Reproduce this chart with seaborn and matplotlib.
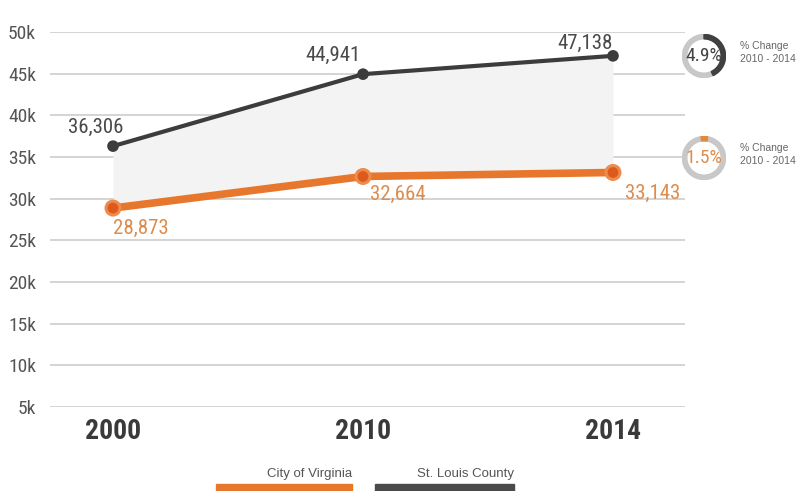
import matplotlib
matplotlib.use("Agg")
import matplotlib.pyplot as plt
from matplotlib.patches import Wedge, Rectangle
import seaborn as sns
import pandas as pd

years = ["2000", "2010", "2014"]
county = [36306, 44941, 47138]
virginia = [28873, 32664, 33143]
y_ticks = [5000, 10000, 15000, 20000, 25000, 30000, 35000, 40000, 45000, 50000]
y_tick_labels = ["5k", "10k", "15k", "20k", "25k", "30k", "35k", "40k", "45k", "50k"]
pct_county = "4.9%"
pct_virginia = "1.5%"
series_names = ["City of Virginia", "St. Louis County"]

ORANGE = "#E8772E"
ORANGE_HALO = "#EE8A4A"
ORANGE_DOT = "#DD5A1E"
ORANGE_TXT = "#DE8C4C"
DARK = "#3C3C3C"
GRID = "#C9C9C9"
TICK = "#555555"

sns.set_theme(style="white")
COND = ["Roboto Condensed", "DejaVu Sans"]
plt.rcParams["font.family"] = COND
plt.rcParams["font.stretch"] = "condensed"

fig = plt.figure(figsize=(7.96, 4.91), dpi=100)
fig.patch.set_facecolor("white")
ax = fig.add_axes([50 / 796, 1 - 407 / 491, 635 / 796, 375 / 491])
ax.set_facecolor("white")

x = list(range(len(years)))
df = pd.DataFrame({"x": x * 2,
                   "value": county + virginia,
                   "series": ["county"] * 3 + ["virginia"] * 3})

# shaded band between the two series
ax.fill_between(x, virginia, county, color="#F3F3F3", zorder=1, linewidth=0)

sns.lineplot(data=df[df.series == "county"], x="x", y="value", ax=ax,
             color=DARK, linewidth=3.0, zorder=3, legend=False)
sns.lineplot(data=df[df.series == "virginia"], x="x", y="value", ax=ax,
             color=ORANGE, linewidth=5.5, zorder=3, legend=False)
sns.scatterplot(x=x, y=county, ax=ax, color=DARK, s=70, zorder=4,
                edgecolor="none", legend=False)
sns.scatterplot(x=x, y=virginia, ax=ax, color=ORANGE_HALO, s=150, zorder=4,
                edgecolor="none", legend=False)
sns.scatterplot(x=x, y=virginia, ax=ax, color=ORANGE_DOT, s=60, zorder=5,
                edgecolor="none", legend=False)

ax.set_xlim(-0.252, 2.288)
ax.set_ylim(5000, 50000)
ax.set_yticks(y_ticks)
for yt in y_ticks:
    ax.axhline(yt, color=GRID, linewidth=1.1, zorder=0)
ax.grid(False)
ax.set_yticklabels(y_tick_labels, family=COND, stretch="condensed", fontsize=14, color=TICK)
ax.set_xticks(x)
ax.set_xticklabels(years, family=COND, stretch="condensed", fontsize=20,
                   fontweight="bold", color="#3A3A3A")
ax.tick_params(axis="y", length=0, pad=10)
ax.tick_params(axis="x", length=0, pad=8)
ax.set_xlabel("")
ax.set_ylabel("")
for s in ax.spines.values():
    s.set_visible(False)

# value labels
c_off = [(-0.07, 2200), (-0.12, 2250), (-0.11, 1550)]
for xi, v, (dx, dy) in zip(x, county, c_off):
    ax.text(xi + dx, v + dy, f"{v:,}", family=COND, stretch="condensed", fontsize=15,
            color="#4A4A4A", ha="center", va="center")
v_off = [(0.11, -2400), (0.14, -2200), (0.16, -2500)]
for xi, v, (dx, dy) in zip(x, virginia, v_off):
    ax.text(xi + dx, v + dy, f"{v:,}", family=COND, stretch="condensed", fontsize=15,
            color=ORANGE_TXT, ha="center", va="center")

# percent-change rings
def ring(cx, cy, arc_from, arc_to, arc_color, label, label_color):
    fx, fy = cx / 796, 1 - cy / 491
    r = 22 / 491
    aspect = 491 / 796
    ring_ax = fig.add_axes([fx - r * aspect, fy - r, 2 * r * aspect, 2 * r])
    ring_ax.set_xlim(-1, 1)
    ring_ax.set_ylim(-1, 1)
    ring_ax.set_aspect("equal")
    ring_ax.axis("off")
    ring_ax.add_patch(Wedge((0, 0), 0.98, 0, 360, width=0.2, color="#C8C8C8"))
    ring_ax.add_patch(Wedge((0, 0), 0.98, arc_to, arc_from, width=0.2, color=arc_color))
    ring_ax.text(0, -0.02, label, family=COND, stretch="condensed", fontsize=14,
                 color=label_color, ha="center", va="center")
    fig.text((cx + 36) / 796, 1 - (cy - 10) / 491, "% Change", fontsize=7.5,
             family=["Liberation Sans", "DejaVu Sans"], stretch="normal",
             color="#666666", va="center")
    fig.text((cx + 36) / 796, 1 - (cy + 3) / 491, "2010 - 2014", fontsize=7.5,
             family=["Liberation Sans", "DejaVu Sans"], stretch="normal",
             color="#666666", va="center")

ring(704, 56, 90, -65, "#404040", pct_county, "#444444")
ring(704, 158, 98, 80, "#E08A3C", pct_virginia, ORANGE_TXT)

# legend bars
legend_items = [(series_names[0], ORANGE, 216, 352), (series_names[1], "#4A4A4A", 375, 514)]
for name, col, x0, x1 in legend_items:
    fig.patches.append(Rectangle((x0 / 796, 0), (x1 - x0) / 796, 7 / 491,
                                 transform=fig.transFigure, color=col))
    fig.text(x1 / 796, 1 - 474 / 491, name, fontsize=9.5,
             family=["Liberation Sans", "DejaVu Sans"], stretch="normal",
             color="#555555", ha="right", va="center")

fig.savefig("out.png", dpi=100, facecolor="white")
